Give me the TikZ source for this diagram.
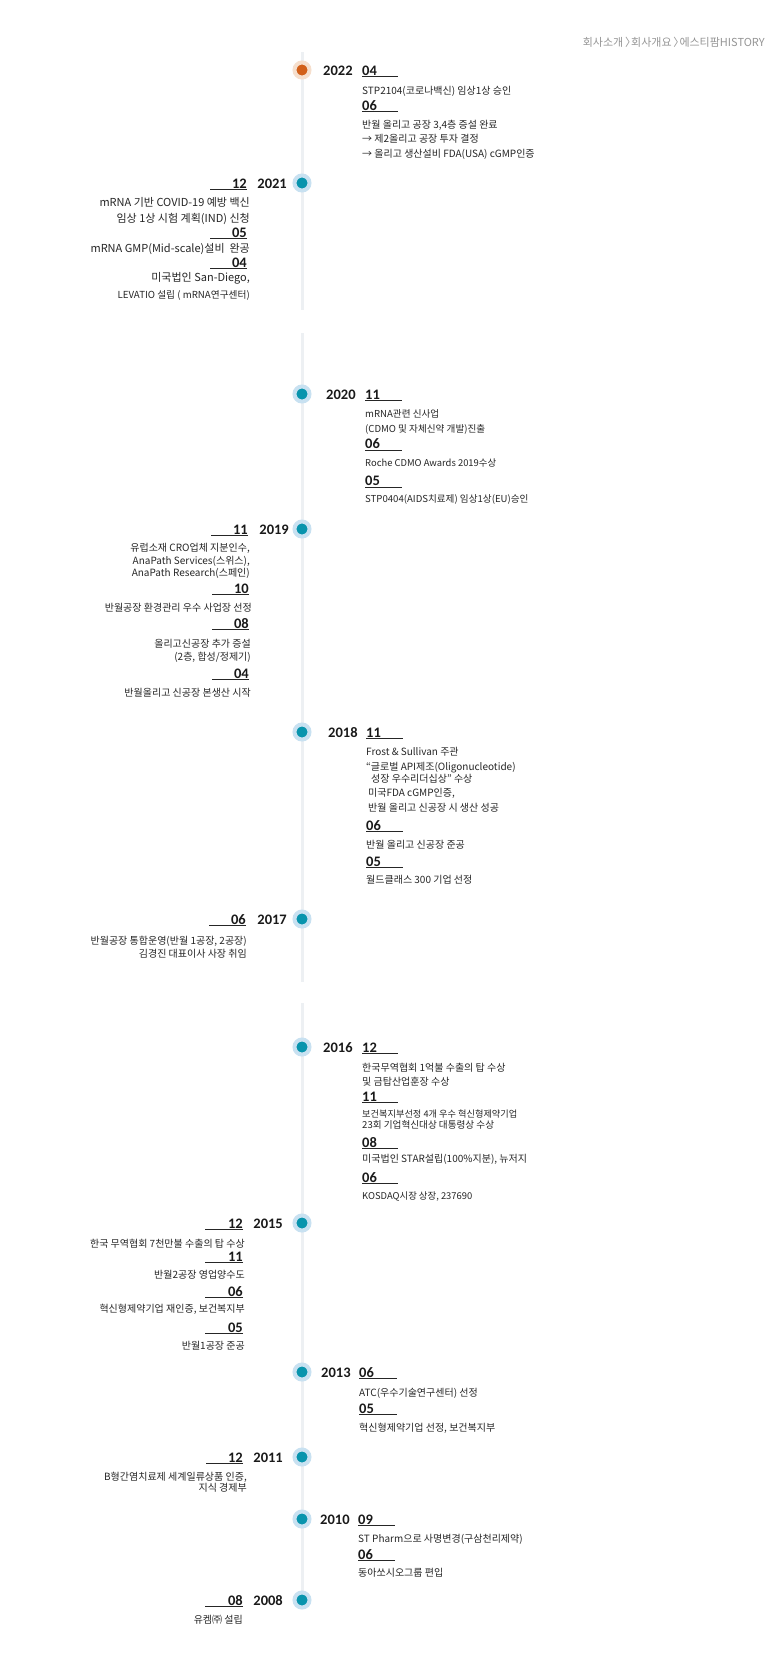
\documentclass[tikz,border=0pt]{standalone}
\usepackage{fontspec}
\setmainfont{Noto Sans CJK KR}
\newfontfamily\numfont{Carlito}
\definecolor{stteal}{HTML}{0894AD}
\definecolor{stglow}{HTML}{C8E1F1}
\definecolor{storange}{HTML}{D2601A}
\definecolor{storglow}{HTML}{F6DFCD}
\definecolor{stline}{HTML}{EDF0F3}
\definecolor{stdark}{HTML}{1A1A1A}
\definecolor{sttext}{HTML}{262626}
\definecolor{stgray}{HTML}{959595}
\newcommand{\crumbsep}{\,\makebox[0.55em][l]{〉}}
\tikzset{
  tline/.style={stline, line width=3pt},
  dot/.style={circle, fill=stteal, draw=stglow, line width=4pt, minimum size=15pt, inner sep=0pt},
  odot/.style={dot, fill=storange, draw=storglow},
  yr/.style={font=\numfont\bfseries\fontsize{14.5}{16}\selectfont, text=stdark, inner sep=0pt},
  txt/.style={font=\fontsize{10}{12}\selectfont, text=sttext, inner sep=0pt},
  lft/.style={anchor=base east},
  rgt/.style={anchor=base west},
  uline/.style={draw=sttext, line width=0.9pt}
}
\begin{document}
\begin{tikzpicture}[x=1pt,y=-1pt]
    \useasboundingbox[fill=white] (0,0) rectangle (768,1673);
    \node[txt, lft, text=stgray, font=\fontsize{11}{13}\selectfont] (crumb) at (765,46) {회사소개\crumbsep 회사개요\crumbsep 에스티팜HISTORY};

    % timeline
    \coordinate (s1a) at (302,52);   \coordinate (s1b) at (302,310);
    \coordinate (s2a) at (302,333);  \coordinate (s2b) at (302,982);
    \coordinate (s3a) at (302,1003); \coordinate (s3b) at (302,1600);
    \draw[tline] (s1a) -- (s1b);
    \draw[tline] (s2a) -- (s2b);
    \draw[tline] (s3a) -- (s3b);

    % 2022
    \node[odot] (d2022) at (302,70) {};
    \node[yr, rgt] (y2022) at (323,75) {2022};
    \node[yr, rgt] (m2022a) at (362,75) {04};
    \draw[uline] (m2022a.base west) ++(0,1.5) -- ++(36,0);
    \node[txt, rgt] at (362,94) {STP2104(코로나백신) 임상1상 승인};
    \node[yr, rgt] (m2022b) at (362,110) {06};
    \draw[uline] (m2022b.base west) ++(0,1.5) -- ++(36,0);
    \node[txt, rgt] at (362,128) {반월 올리고 공장 3,4층 증설 완료};
    \node[txt, rgt] at (362,142) {→ 제2올리고 공장 투자 결정};
    \node[txt, rgt] at (362,157) {→ 올리고 생산설비 FDA(USA) cGMP인증};

    % 2021
    \node[dot] (d2021) at (302,183) {};
    \node[yr, lft] (y2021) at (287,188) {2021};
    \node[yr, lft] (m2021a) at (247,188) {12};
    \draw[uline] (m2021a.base east) ++(0,1.5) -- ++(-37,0);
    \node[txt, lft, font=\fontsize{11}{13}\selectfont] at (250,206) {mRNA 기반 COVID-19 예방 백신};
    \node[txt, lft, font=\fontsize{11}{13}\selectfont] at (250,222) {임상 1상 시험 계획(IND) 신청};
    \node[yr, lft] (m2021b) at (247,237) {05};
    \draw[uline] (m2021b.base east) ++(0,1.5) -- ++(-37,0);
    \node[txt, lft, font=\fontsize{11}{13}\selectfont] at (250,252) {mRNA GMP(Mid-scale)설비\ \ 완공};
    \node[yr, lft] (m2021c) at (247,267) {04};
    \draw[uline] (m2021c.base east) ++(0,1.5) -- ++(-37,0);
    \node[txt, lft, font=\fontsize{11}{13}\selectfont] at (250,281) {미국법인 San-Diego,};
    \node[txt, lft, font=\fontsize{9.7}{12}\selectfont] at (250,298) {LEVATIO 설립 ( mRNA연구센터)};

    % 2020
    \node[dot] (d2020) at (302,394) {};
    \node[yr, rgt] (y2020) at (326,399) {2020};
    \node[yr, rgt] (m2020a) at (365,399) {11};
    \draw[uline] (m2020a.base west) ++(0,1.5) -- ++(37,0);
    \node[txt, rgt, font=\fontsize{9.6}{12}\selectfont] at (365,417) {mRNA관련 신사업};
    \node[txt, rgt, font=\fontsize{9.6}{12}\selectfont] at (365,432) {(CDMO 및 자체신약 개발)진출};
    \node[yr, rgt] (m2020b) at (365,448.5) {06};
    \draw[uline] (m2020b.base west) ++(0,1.5) -- ++(37,0);
    \node[txt, rgt, font=\fontsize{9.4}{12}\selectfont] at (365,466) {Roche CDMO Awards 2019수상};
    \node[yr, rgt] (m2020c) at (365,485.5) {05};
    \draw[uline] (m2020c.base west) ++(0,1.5) -- ++(37,0);
    \node[txt, rgt, font=\fontsize{9.6}{12}\selectfont] at (365,502) {STP0404(AIDS치료제) 임상1상(EU)승인};

    % 2019
    \node[dot] (d2019) at (302,529) {};
    \node[yr, lft] (y2019) at (289,534) {2019};
    \node[yr, lft] (m2019a) at (248,534) {11};
    \draw[uline] (m2019a.base east) ++(0,1.5) -- ++(-37,0);
    \node[txt, lft] at (250,551) {유럽소재 CRO업체 지분인수,};
    \node[txt, lft] at (250,564) {AnaPath Services(스위스),};
    \node[txt, lft] at (250,576) {AnaPath Research(스페인)};
    \node[yr, lft] (m2019b) at (249,593) {10};
    \draw[uline] (m2019b.base east) ++(0,1.5) -- ++(-37,0);
    \node[txt, lft] at (252,611) {반월공장 환경관리 우수 사업장 선정};
    \node[yr, lft] (m2019c) at (249,628) {08};
    \draw[uline] (m2019c.base east) ++(0,1.5) -- ++(-37,0);
    \node[txt, lft] at (251,647) {올리고신공장 추가 증설};
    \node[txt, lft] at (251,660) {(2층, 합성/정제기)};
    \node[yr, lft] (m2019d) at (249,678) {04};
    \draw[uline] (m2019d.base east) ++(0,1.5) -- ++(-37,0);
    \node[txt, lft] at (251,696) {반월올리고 신공장 본생산 시작};

    % 2018
    \node[dot] (d2018) at (302,732) {};
    \node[yr, rgt] (y2018) at (328,737) {2018};
    \node[yr, rgt] (m2018a) at (366,737) {11};
    \draw[uline] (m2018a.base west) ++(0,1.5) -- ++(37,0);
    \node[txt, rgt] at (366,755) {Frost \& Sullivan 주관};
    \node[txt, rgt] at (366,770) {“글로벌 API제조(Oligonucleotide)};
    \node[txt, rgt] at (371,782) {성장 우수리더십상” 수상};
    \node[txt, rgt] at (368,796) {미국FDA cGMP인증,};
    \node[txt, rgt] at (368,811) {반월 올리고 신공장 시 생산 성공};
    \node[yr, rgt] (m2018b) at (366,830) {06};
    \draw[uline] (m2018b.base west) ++(0,1.5) -- ++(37,0);
    \node[txt, rgt] at (366,848) {반월 올리고 신공장 준공};
    \node[yr, rgt] (m2018c) at (366,866) {05};
    \draw[uline] (m2018c.base west) ++(0,1.5) -- ++(37,0);
    \node[txt, rgt] at (366,883) {월드클래스 300 기업 선정};

    % 2017
    \node[dot] (d2017) at (302,919) {};
    \node[yr, lft] (y2017) at (287,924) {2017};
    \node[yr, lft] (m2017a) at (246,924) {06};
    \draw[uline] (m2017a.base east) ++(0,1.5) -- ++(-37,0);
    \node[txt, lft] at (247,944) {반월공장 통합운영(반월 1공장, 2공장)};
    \node[txt, lft] at (247,957) {김경진 대표이사 사장 취임};

    % 2016
    \node[dot] (d2016) at (302,1047) {};
    \node[yr, rgt] (y2016) at (323,1052) {2016};
    \node[yr, rgt] (m2016a) at (362,1052) {12};
    \draw[uline] (m2016a.base west) ++(0,1.5) -- ++(36,0);
    \node[txt, rgt] at (362,1071) {한국무역협회 1억불 수출의 탑 수상};
    \node[txt, rgt] at (362,1085) {및 금탑산업훈장 수상};
    \node[yr, rgt] (m2016b) at (362,1101) {11};
    \draw[uline] (m2016b.base west) ++(0,1.5) -- ++(36,0);
    \node[txt, rgt, font=\fontsize{9.2}{11}\selectfont] at (362,1117) {보건복지부선정 4개 우수 혁신형제약기업};
    \node[txt, rgt, font=\fontsize{9.6}{11}\selectfont] at (362,1128) {23회 기업혁신대상 대통령상 수상};
    \node[yr, rgt] (m2016c) at (362,1147) {08};
    \draw[uline] (m2016c.base west) ++(0,1.5) -- ++(36,0);
    \node[txt, rgt] at (362,1162) {미국법인 STAR설립(100\%지분), 뉴저지};
    \node[yr, rgt] (m2016d) at (362,1182) {06};
    \draw[uline] (m2016d.base west) ++(0,1.5) -- ++(36,0);
    \node[txt, rgt, font=\fontsize{9.4}{11}\selectfont] at (362,1199) {KOSDAQ시장 상장, 237690};

    % 2015
    \node[dot] (d2015) at (302,1223) {};
    \node[yr, lft] (y2015) at (283,1228) {2015};
    \node[yr, lft] (m2015a) at (243,1228) {12};
    \draw[uline] (m2015a.base east) ++(0,1.5) -- ++(-38,0);
    \node[txt, lft] at (245,1247) {한국 무역협회 7천만불 수출의 탑 수상};
    \node[yr, lft] (m2015b) at (243,1261) {11};
    \draw[uline] (m2015b.base east) ++(0,1.5) -- ++(-38,0);
    \node[txt, lft] at (245,1278) {반월2공장 영업양수도};
    \node[yr, lft] (m2015c) at (243,1296) {06};
    \draw[uline] (m2015c.base east) ++(0,1.5) -- ++(-38,0);
    \node[txt, lft] at (245,1312) {혁신형제약기업 재인증, 보건복지부};
    \node[yr, lft] (m2015d) at (243,1332) {05};
    \draw[uline] (m2015d.base east) ++(0,1.5) -- ++(-38,0);
    \node[txt, lft] at (245,1349) {반월1공장 준공};

    % 2013
    \node[dot] (d2013) at (302,1372) {};
    \node[yr, rgt] (y2013) at (321,1377) {2013};
    \node[yr, rgt] (m2013a) at (359,1377) {06};
    \draw[uline] (m2013a.base west) ++(0,1.5) -- ++(38,0);
    \node[txt, rgt] at (359,1396) {ATC(우수기술연구센터) 선정};
    \node[yr, rgt] (m2013b) at (359,1413) {05};
    \draw[uline] (m2013b.base west) ++(0,1.5) -- ++(38,0);
    \node[txt, rgt] at (359,1431) {혁신형제약기업 선정, 보건복지부};

    % 2011
    \node[dot] (d2011) at (302,1457) {};
    \node[yr, lft] (y2011) at (283,1462) {2011};
    \node[yr, lft] (m2011a) at (243,1462) {12};
    \draw[uline] (m2011a.base east) ++(0,1.5) -- ++(-37,0);
    \node[txt, lft] at (247,1480) {B형간염치료제 세계일류상품 인증,};
    \node[txt, lft] at (247,1491) {지식 경제부};

    % 2010
    \node[dot] (d2010) at (302,1519) {};
    \node[yr, rgt] (y2010) at (320,1524) {2010};
    \node[yr, rgt] (m2010a) at (358,1524) {09};
    \draw[uline] (m2010a.base west) ++(0,1.5) -- ++(37,0);
    \node[txt, rgt] at (358,1542) {ST Pharm으로 사명변경(구삼천리제약)};
    \node[yr, rgt] (m2010b) at (358,1559) {06};
    \draw[uline] (m2010b.base west) ++(0,1.5) -- ++(37,0);
    \node[txt, rgt] at (358,1576) {동아쏘시오그룹 편입};

    % 2008
    \node[dot] (d2008) at (302,1600) {};
    \node[yr, lft] (y2008) at (283,1605) {2008};
    \node[yr, lft] (m2008a) at (243,1605) {08};
    \draw[uline] (m2008a.base east) ++(0,1.5) -- ++(-38,0);
    \node[txt, lft] at (243,1623) {유켐㈜ 설립};
\end{tikzpicture}
\end{document}
